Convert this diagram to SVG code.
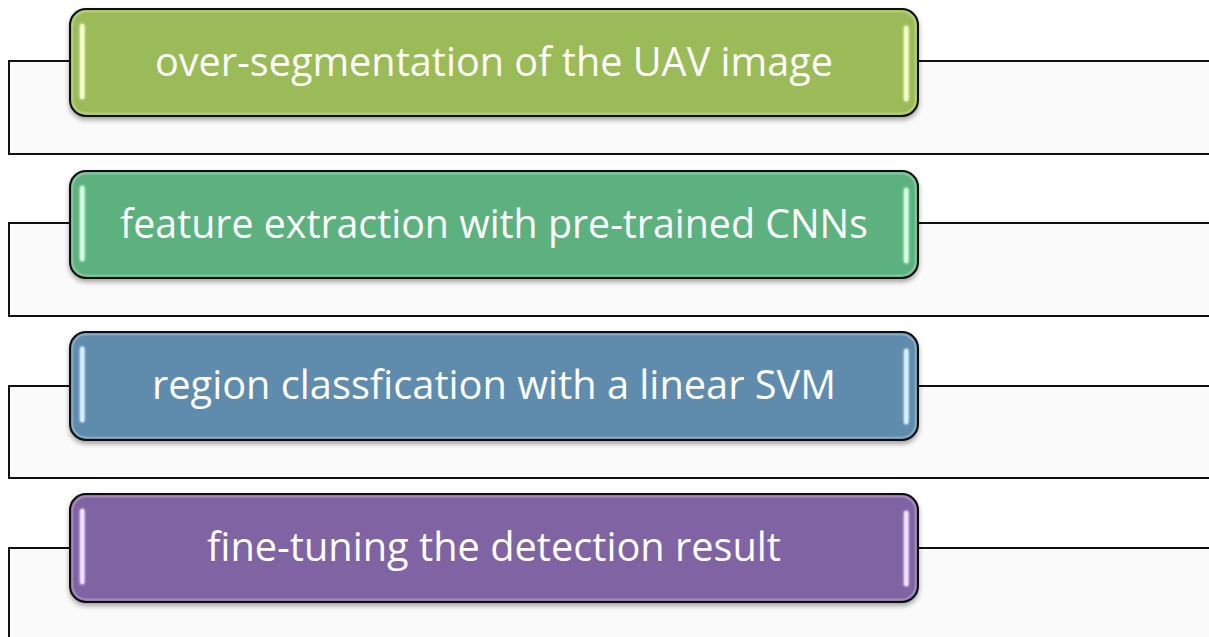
<svg xmlns="http://www.w3.org/2000/svg" width="1209" height="637" viewBox="0 0 1209 637">
<defs>
<style>
.band{fill:#FAFAFA;stroke:#111;stroke-width:2}
.node{stroke:#111;stroke-width:2}
.bevel{fill:none;stroke:#fff;stroke-opacity:0.25;stroke-width:2}
.lbl{font-family:"Open Sans","Liberation Sans",sans-serif;font-size:40px;fill:#fff;text-anchor:middle}
</style>
<filter id="sh" x="-5%" y="-10%" width="110%" height="130%">
<feGaussianBlur in="SourceAlpha" stdDeviation="2.5"/>
<feOffset dx="0" dy="3" result="b"/>
<feComponentTransfer><feFuncA type="linear" slope="0.35"/></feComponentTransfer>
<feMerge><feMergeNode/><feMergeNode in="SourceGraphic"/></feMerge>
</filter>
<filter id="glow" filterUnits="userSpaceOnUse" x="0" y="0" width="1209" height="637">
<feGaussianBlur stdDeviation="1.6" result="g"/>
<feMerge><feMergeNode in="g"/><feMergeNode in="g"/><feMergeNode in="SourceGraphic"/></feMerge>
</filter>
</defs>
<rect width="1209" height="637" fill="#fff"/>
<g id="connectors">
<rect class="band" x="9" y="61" width="1210" height="93"/>
<rect class="band" x="9" y="223" width="1210" height="93"/>
<rect class="band" x="9" y="386" width="1210" height="92"/>
<rect class="band" x="9" y="548" width="1210" height="100"/>
</g>
<g id="node1">
<rect class="node" x="70" y="9" width="848" height="107" rx="16" fill="#9BBB59" filter="url(#sh)"/>
<rect class="bevel" x="72.5" y="11.5" width="843" height="102" rx="14"/>
<g filter="url(#glow)" fill="#F4FFC8">
<rect x="80.5" y="24" width="3.5" height="75" rx="1.75"/>
<rect x="904.5" y="26" width="3.5" height="75" rx="1.75"/>
</g>
<text class="lbl" x="494" y="76" textLength="678" lengthAdjust="spacingAndGlyphs">over-segmentation of the UAV image</text>
</g>
<g id="node2">
<rect class="node" x="70" y="171" width="848" height="107" rx="16" fill="#5DB17F" filter="url(#sh)"/>
<rect class="bevel" x="72.5" y="173.5" width="843" height="102" rx="14"/>
<g filter="url(#glow)" fill="#D2FFE2">
<rect x="80.5" y="186" width="3.5" height="75" rx="1.75"/>
<rect x="904.5" y="188" width="3.5" height="75" rx="1.75"/>
</g>
<text class="lbl" x="494" y="238" textLength="748" lengthAdjust="spacingAndGlyphs">feature extraction with pre-trained CNNs</text>
</g>
<g id="node3">
<rect class="node" x="70" y="332" width="848" height="108" rx="16" fill="#5E8BAC" filter="url(#sh)"/>
<rect class="bevel" x="72.5" y="334.5" width="843" height="103" rx="14"/>
<g filter="url(#glow)" fill="#D4EEFF">
<rect x="80.5" y="347" width="3.5" height="75" rx="1.75"/>
<rect x="904.5" y="349" width="3.5" height="75" rx="1.75"/>
</g>
<text class="lbl" x="494" y="399" textLength="684" lengthAdjust="spacingAndGlyphs">region classfication with a linear SVM</text>
</g>
<g id="node4">
<rect class="node" x="70" y="494" width="848" height="108" rx="16" fill="#8064A2" filter="url(#sh)"/>
<rect class="bevel" x="72.5" y="496.5" width="843" height="103" rx="14"/>
<g filter="url(#glow)" fill="#F0DDFF">
<rect x="80.5" y="509" width="3.5" height="75" rx="1.75"/>
<rect x="904.5" y="511" width="3.5" height="75" rx="1.75"/>
</g>
<text class="lbl" x="494" y="561" textLength="574" lengthAdjust="spacingAndGlyphs">fine-tuning the detection result</text>
</g>
</svg>
